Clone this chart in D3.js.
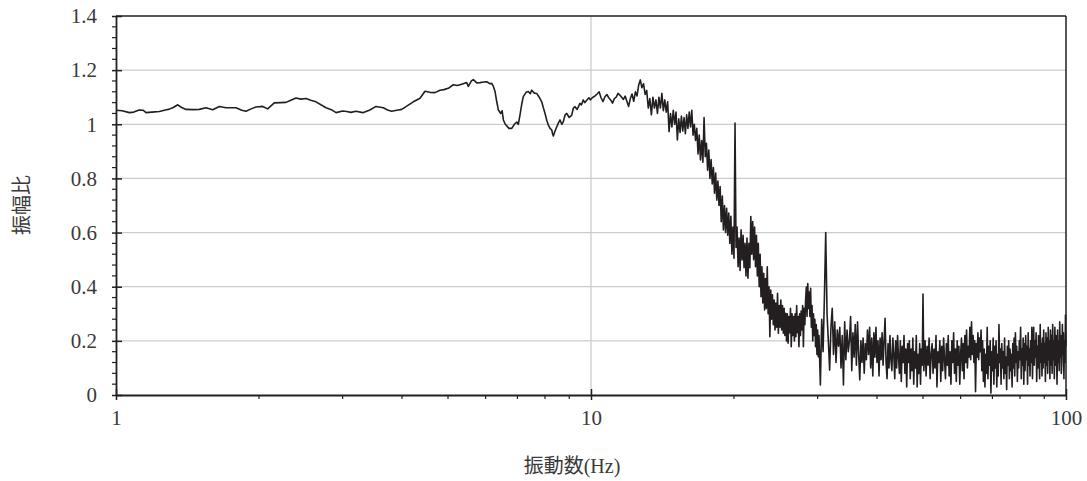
<!DOCTYPE html>
<html><head><meta charset="utf-8">
<script src="https://cdn.jsdelivr.net/npm/d3@7"></script>
<style>body{margin:0;background:#fff} svg{display:block}
.serif{font-family:"Liberation Serif","DejaVu Serif","Noto Sans CJK JP",serif}
</style>
</head><body>
<svg id="chart" width="1087" height="481"></svg>
<script>
// [frequency Hz, amplitude ratio] — smooth low-frequency part
const smoothData = [
[1.00,1.052],[1.03,1.050],[1.067,1.043],[1.09,1.045],[1.119,1.053],[1.14,1.052],[1.157,1.043],[1.19,1.045],
[1.234,1.047],[1.27,1.053],[1.295,1.056],[1.32,1.062],[1.349,1.072],[1.375,1.062],[1.404,1.055],[1.45,1.054],
[1.497,1.055],[1.547,1.061],[1.598,1.054],[1.650,1.066],[1.704,1.061],[1.789,1.061],[1.84,1.052],[1.878,1.048],
[1.92,1.056],[1.971,1.064],[2.036,1.066],[2.086,1.057],[2.154,1.079],[2.22,1.080],[2.280,1.081],[2.34,1.090],
[2.393,1.097],[2.45,1.093],[2.512,1.095],[2.57,1.089],[2.637,1.083],[2.70,1.072],[2.768,1.061],[2.84,1.054],
[2.906,1.043],[3.001,1.049],[3.06,1.047],[3.124,1.044],[3.20,1.048],[3.307,1.043],[3.415,1.052],[3.527,1.066],
[3.654,1.061],[3.73,1.053],[3.805,1.048],[3.90,1.052],[3.996,1.055],[4.10,1.068],[4.226,1.083],[4.365,1.096],
[4.472,1.122],[4.58,1.118],[4.694,1.117],[4.809,1.126],[4.9,1.128],[5.006,1.133],[5.129,1.146],[5.23,1.143],
[5.343,1.148],[5.474,1.154],[5.517,1.140],[5.60,1.160],[5.652,1.165],[5.75,1.153],[5.840,1.154],[5.95,1.156],
[6.032,1.157],[6.12,1.150],[6.180,1.151],[6.23,1.140],[6.281,1.121],[6.33,1.085],[6.382,1.053],[6.457,1.040],
[6.50,1.050],[6.539,1.016],[6.60,1.000],[6.647,0.994],[6.72,0.985],[6.811,0.985],[6.90,1.000],[6.979,1.008],
[7.03,1.000],[7.087,1.034],[7.15,1.075],[7.202,1.102],[7.30,1.118],[7.379,1.121],[7.45,1.113],[7.503,1.126],
[7.60,1.115],[7.687,1.114],[7.78,1.100],[7.875,1.083],[7.94,1.060],[8.003,1.040],[8.07,1.015],[8.132,0.997],
[8.20,0.985],[8.268,0.979],[8.30,0.965],[8.332,0.957],[8.40,0.975],[8.471,0.991],[8.54,1.005],[8.607,1.016],
[8.68,1.000],[8.746,1.010],[8.82,1.035],[8.890,1.040],[9.00,1.025],[9.109,1.034],[9.18,1.060],[9.255,1.065],
[9.35,1.055],[9.480,1.077],[9.55,1.072],[9.63,1.090],[9.70,1.080],[9.793,1.089],[9.90,1.098],[9.97,1.090],[10.03,1.096]
];
// 10 – 30 Hz
const midData = [
[10.1,1.100],[10.2,1.105],[10.3,1.112],[10.4,1.120],[10.5,1.098],[10.6,1.084],[10.7,1.102],[10.8,1.110],[10.9,1.098],[11.0,1.090],
[11.1,1.078],[11.2,1.095],[11.3,1.100],[11.4,1.114],[11.5,1.108],[11.6,1.100],[11.7,1.092],[11.8,1.104],[11.9,1.085],[12.0,1.066],
[12.1,1.095],[12.2,1.112],[12.3,1.085],[12.4,1.120],[12.5,1.105],[12.6,1.145],[12.7,1.164],[12.8,1.135],[12.9,1.150],[13.0,1.110],
[13.1,1.125],[13.2,1.060],[13.3,1.095],[13.4,1.035],[13.5,1.100],[13.6,1.060],[13.7,1.090],[13.8,1.040],[13.9,1.100],[14.0,1.060],
[14.1,1.114],[14.2,1.050],[14.3,1.090],[14.4,1.045],[14.5,1.083],[14.6,0.973],[14.7,1.040],[14.8,0.990],[14.9,1.052],[15.0,1.000],
[15.1,1.045],[15.2,0.942],[15.3,1.020],[15.4,0.970],[15.5,1.030],[15.6,0.975],[15.7,1.025],[15.8,0.965],[15.9,1.035],[16.0,0.985],
[16.1,1.045],[16.2,0.990],[16.3,1.052],[16.4,0.960],[16.5,1.000],[16.6,0.940],[16.7,0.985],[16.8,0.890],[16.9,0.960],[17.0,0.868],
[17.1,0.940],[17.2,0.860],[17.3,1.025],[17.4,0.880],[17.5,0.930],[17.6,0.830],[17.7,0.905],[17.8,0.800],[17.9,0.870],[18.0,0.780],
[18.1,0.840],[18.2,0.745],[18.3,0.820],[18.4,0.720],[18.5,0.790],[18.6,0.700],[18.7,0.770],[18.8,0.640],[18.9,0.735],[19.0,0.610],
[19.1,0.700],[19.2,0.600],[19.3,0.690],[19.4,0.590],[19.5,0.672],[19.6,0.560],[19.7,0.660],[19.8,0.520],[19.9,0.620],[20.0,0.505],
[20.1,1.005],[20.2,0.545],[20.3,0.620],[20.4,0.474],[20.5,0.580],[20.6,0.460],[20.7,0.610],[20.8,0.499],[20.9,0.590],[21.0,0.470],
[21.1,0.560],[21.2,0.440],[21.3,0.580],[21.4,0.431],[21.5,0.560],[21.6,0.470],[21.7,0.659],[21.8,0.520],[21.9,0.641],[22.0,0.500],
[22.1,0.620],[22.2,0.474],[22.3,0.590],[22.4,0.440],[22.5,0.560],[22.6,0.400],[22.7,0.520],[22.8,0.363],[22.9,0.474],[23.0,0.340],
[23.1,0.450],[23.2,0.314],[23.3,0.430],[23.4,0.320],[23.5,0.474],[23.6,0.300],[23.7,0.400],[23.8,0.215],[23.9,0.388],[24.0,0.280],
[24.1,0.370],[24.2,0.260],[24.3,0.351],[24.4,0.240],[24.5,0.340],[24.6,0.250],[24.7,0.376],[24.8,0.228],[24.9,0.330],[25.0,0.250],
[25.1,0.351],[25.2,0.240],[25.3,0.330],[25.4,0.228],[25.5,0.320],[25.6,0.220],[25.7,0.302],[25.8,0.200],[25.9,0.300],[26.0,0.191],
[26.1,0.290],[26.2,0.230],[26.3,0.320],[26.4,0.178],[26.5,0.300],[26.6,0.220],[26.7,0.290],[26.8,0.200],[26.9,0.300],[27.0,0.215],
[27.1,0.330],[27.2,0.230],[27.3,0.290],[27.4,0.178],[27.5,0.300],[27.6,0.220],[27.7,0.310],[27.8,0.240],[27.9,0.330],[28.0,0.178],
[28.1,0.320],[28.2,0.260],[28.3,0.350],[28.4,0.399],[28.5,0.290],[28.6,0.412],[28.7,0.320],[28.8,0.380],[28.9,0.290],[29.0,0.394],
[29.1,0.250],[29.2,0.330],[29.3,0.200],[29.4,0.300],[29.5,0.220],[29.6,0.280],[29.7,0.178],[29.8,0.260],[29.9,0.150],[30.0,0.240],[30.1,0.141]
];
// 30 – 50 Hz
const highData = [
[30.2,0.220],[30.4,0.037],[30.6,0.280],[30.8,0.160],[31.0,0.360],[31.2,0.600],[31.4,0.300],[31.6,0.200],[31.8,0.092],[32.0,0.250],
[32.2,0.320],[32.4,0.150],[32.6,0.270],[32.8,0.120],[33.0,0.240],[33.2,0.180],[33.4,0.250],[33.6,0.100],[33.8,0.220],[34.0,0.037],
[34.2,0.270],[34.4,0.130],[34.6,0.240],[34.8,0.160],[35.0,0.200],[35.2,0.290],[35.4,0.090],[35.6,0.230],[35.8,0.140],[36.0,0.260],
[36.2,0.110],[36.4,0.270],[36.6,0.150],[36.8,0.056],[37.0,0.200],[37.2,0.120],[37.4,0.210],[37.6,0.080],[37.8,0.190],[38.0,0.130],
[38.2,0.240],[38.4,0.150],[38.6,0.250],[38.8,0.100],[39.0,0.210],[39.2,0.070],[39.4,0.230],[39.6,0.140],[39.8,0.250],[40.0,0.120],
[40.2,0.200],[40.4,0.070],[40.6,0.210],[40.8,0.130],[41.0,0.230],[41.2,0.110],[41.4,0.200],[41.6,0.283],[41.8,0.120],[42.0,0.060],
[42.2,0.190],[42.4,0.100],[42.6,0.220],[42.8,0.130],[43.0,0.090],[43.2,0.210],[43.4,0.150],[43.6,0.060],[43.8,0.200],[44.0,0.100],
[44.2,0.220],[44.4,0.140],[44.6,0.080],[44.8,0.200],[45.0,0.050],[45.2,0.180],[45.4,0.120],[45.6,0.220],[45.8,0.080],[46.0,0.170],
[46.2,0.030],[46.4,0.190],[46.6,0.120],[46.8,0.200],[47.0,0.060],[47.2,0.170],[47.4,0.090],[47.6,0.210],[47.8,0.040],[48.0,0.160],
[48.2,0.100],[48.4,0.220],[48.6,0.030],[48.8,0.150],[49.0,0.080],[49.2,0.190],[49.4,0.040],[49.6,0.170],[49.8,0.110],[50.0,0.373],[50.2,0.090]
];
// 50 – 100 Hz
const tailData = [
[50.5,0.200],[50.75,0.070],[51,0.180],[51.25,0.110],[51.5,0.210],[51.75,0.060],[52,0.150],[52.25,0.190],[52.5,0.080],[52.75,0.170],
[53,0.100],[53.25,0.220],[53.5,0.030],[53.75,0.160],[54,0.120],[54.25,0.200],[54.5,0.050],[54.75,0.180],[55,0.090],[55.25,0.210],
[55.5,0.130],[55.75,0.060],[56,0.190],[56.25,0.110],[56.5,0.220],[56.75,0.070],[57,0.160],[57.25,0.040],[57.5,0.200],[57.75,0.120],
[58,0.230],[58.25,0.080],[58.5,0.170],[58.75,0.050],[59,0.200],[59.25,0.110],[59.5,0.180],[59.75,0.040],[60,0.150],[60.25,0.210],
[60.5,0.090],[60.75,0.190],[61,0.060],[61.25,0.220],[61.5,0.120],[61.75,0.240],[62,0.100],[62.25,0.180],[62.5,0.140],[62.75,0.250],
[63,0.130],[63.25,0.270],[63.5,0.150],[63.75,0.220],[64,0.120],[64.25,0.200],[64.5,0.012],[64.75,0.190],[65,0.140],[65.25,0.230],
[65.5,0.130],[65.75,0.210],[66,0.160],[66.25,0.240],[66.5,0.090],[66.75,0.200],[67,0.050],[67.25,0.170],[67.5,0.030],[67.75,0.150],
[68,0.080],[68.25,0.250],[68.5,0.060],[68.75,0.180],[69,0.110],[69.25,0.200],[69.5,0.007],[69.75,0.160],[70,0.090],[70.25,0.210],
[70.5,0.040],[70.75,0.180],[71,0.100],[71.25,0.200],[71.5,0.030],[71.75,0.150],[72,0.070],[72.25,0.260],[72.5,0.120],[72.75,0.170],
[73,0.040],[73.25,0.190],[73.5,0.100],[73.75,0.160],[74,0.060],[74.25,0.210],[74.5,0.080],[74.75,0.140],[75,0.020],[75.25,0.180],
[75.5,0.110],[75.75,0.200],[76,0.060],[76.25,0.170],[76.5,0.090],[76.75,0.150],[77,0.030],[77.25,0.190],[77.5,0.100],[77.75,0.210],
[78,0.070],[78.25,0.230],[78.5,0.120],[78.75,0.180],[79,0.050],[79.25,0.160],[79.5,0.100],[79.75,0.200],[80,0.130],[80.25,0.250],
[80.5,0.060],[80.75,0.170],[81,0.110],[81.25,0.210],[81.5,0.040],[81.75,0.190],[82,0.090],[82.25,0.220],[82.5,0.130],[82.75,0.180],
[83,0.040],[83.25,0.230],[83.5,0.110],[83.75,0.170],[84,0.070],[84.25,0.200],[84.5,0.120],[84.75,0.250],[85,0.060],[85.25,0.190],
[85.5,0.250],[85.75,0.110],[86,0.200],[86.25,0.140],[86.5,0.230],[86.75,0.050],[87,0.180],[87.25,0.100],[87.5,0.220],[87.75,0.130],
[88,0.060],[88.25,0.260],[88.5,0.120],[88.75,0.190],[89,0.070],[89.25,0.210],[89.5,0.100],[89.75,0.240],[90,0.120],[90.25,0.190],
[90.5,0.050],[90.75,0.230],[91,0.110],[91.25,0.210],[91.5,0.080],[91.75,0.250],[92,0.130],[92.25,0.200],[92.5,0.060],[92.75,0.240],
[93,0.110],[93.25,0.220],[93.5,0.080],[93.75,0.260],[94,0.130],[94.25,0.200],[94.5,0.060],[94.75,0.250],[95,0.110],[95.25,0.220],
[95.5,0.150],[95.75,0.040],[96,0.240],[96.25,0.120],[96.5,0.200],[96.75,0.090],[97,0.270],[97.25,0.140],[97.5,0.220],[97.75,0.080],
[98,0.120],[98.25,0.260],[98.5,0.150],[98.75,0.230],[99,0.060],[99.25,0.200],[99.5,0.120],[99.75,0.295],[100,0.180]
];

const xTickValues = [1, 10, 100];
const xTickLabels = ["1", "10", "100"];
const xMinorTicks = [2,3,4,5,6,7,8,9,20,30,40,50,60,70,80,90];
const yTickValues = [0, 0.2, 0.4, 0.6, 0.8, 1.0, 1.2, 1.4];
const yTickLabels = ["0", "0.2", "0.4", "0.6", "0.8", "1", "1.2", "1.4"];
const yMinorTicks = [0.04,0.08,0.12,0.16,0.24,0.28,0.32,0.36,0.44,0.48,0.52,0.56,0.64,0.68,0.72,0.76,0.84,0.88,0.92,0.96,1.04,1.08,1.12,1.16,1.24,1.28,1.32,1.36];
const yGridValues = [0.2, 0.4, 0.6, 0.8, 1.0, 1.2];
const xGridValues = [10];
const xTitle = "振動数(Hz)";
const yTitle = "振幅比";

const L = 116, R = 1066, T = 16, B = 395;
const svg = d3.select("#chart");
const x = d3.scaleLog().domain([1, 100]).range([L, R]);
const y = d3.scaleLinear().domain([0, 1.4]).range([B, T]);
const textCol = "#3a3a3a";
const axisCol = "#231f20";

// grid
svg.append("g").selectAll("line").data(yGridValues).join("line")
  .attr("x1", L).attr("x2", R).attr("y1", d => y(d)).attr("y2", d => y(d))
  .attr("stroke", "#cccccc").attr("stroke-width", 1.3);
svg.append("g").selectAll("line").data(xGridValues).join("line")
  .attr("x1", d => x(d)).attr("x2", d => x(d)).attr("y1", T).attr("y2", B)
  .attr("stroke", "#cccccc").attr("stroke-width", 1.3);

// data line
const allData = smoothData.concat(midData, highData, tailData);
const line = d3.line().x(d => x(d[0])).y(d => y(d[1]));
svg.append("path").datum(allData).attr("d", line)
  .attr("fill", "none").attr("stroke", "#231f20").attr("stroke-width", 1.6)
  .attr("stroke-linejoin", "round");

// frame: top & right
svg.append("line").attr("x1", L).attr("x2", R).attr("y1", T).attr("y2", T).attr("stroke", axisCol).attr("stroke-width", 1.5);
svg.append("line").attr("x1", R).attr("x2", R).attr("y1", T).attr("y2", B).attr("stroke", axisCol).attr("stroke-width", 1.5);

// y axis
const yAxis = d3.axisLeft(y).tickValues(yTickValues).tickFormat((d, i) => yTickLabels[i]).tickSizeInner(4).tickSizeOuter(0).tickPadding(15);
const gy = svg.append("g").attr("transform", `translate(${L},0)`).call(yAxis);
gy.attr("font-family", null);
gy.select(".domain").attr("stroke", axisCol).attr("stroke-width", 1.8);
gy.selectAll(".tick line").attr("stroke", axisCol).attr("stroke-width", 1.5).attr("x2", -4).attr("x1", 6);
gy.selectAll(".tick text").attr("class", "serif").attr("font-size", 21).attr("fill", textCol);
svg.append("g").selectAll("line").data(yMinorTicks).join("line")
  .attr("x1", L - 4).attr("x2", L).attr("y1", d => y(d)).attr("y2", d => y(d))
  .attr("stroke", axisCol).attr("stroke-width", 1.2);

// x axis
const xAxis = d3.axisBottom(x).tickValues(xTickValues).tickFormat((d, i) => xTickLabels[i]).tickSizeInner(5).tickSizeOuter(0).tickPadding(10);
const gx = svg.append("g").attr("transform", `translate(0,${B})`).call(xAxis);
gx.attr("font-family", null);
gx.select(".domain").attr("stroke", axisCol).attr("stroke-width", 1.8);
gx.selectAll(".tick line").attr("stroke", axisCol).attr("stroke-width", 1.5).attr("y1", -6).attr("y2", 5);
gx.selectAll(".tick text").attr("class", "serif").attr("font-size", 21).attr("fill", textCol);
svg.append("g").selectAll("line").data(xMinorTicks).join("line")
  .attr("x1", d => x(d)).attr("x2", d => x(d)).attr("y1", B).attr("y2", B + 4)
  .attr("stroke", axisCol).attr("stroke-width", 1.2);

// titles
svg.append("text").attr("class", "serif").attr("x", 572).attr("y", 473).attr("text-anchor", "middle")
  .attr("font-size", 20).attr("fill", textCol).text(xTitle);
svg.append("text").attr("class", "serif").attr("transform", `translate(29,205) rotate(-90)`).attr("text-anchor", "middle")
  .attr("font-size", 20).attr("fill", textCol).text(yTitle);
</script>
</body></html>
